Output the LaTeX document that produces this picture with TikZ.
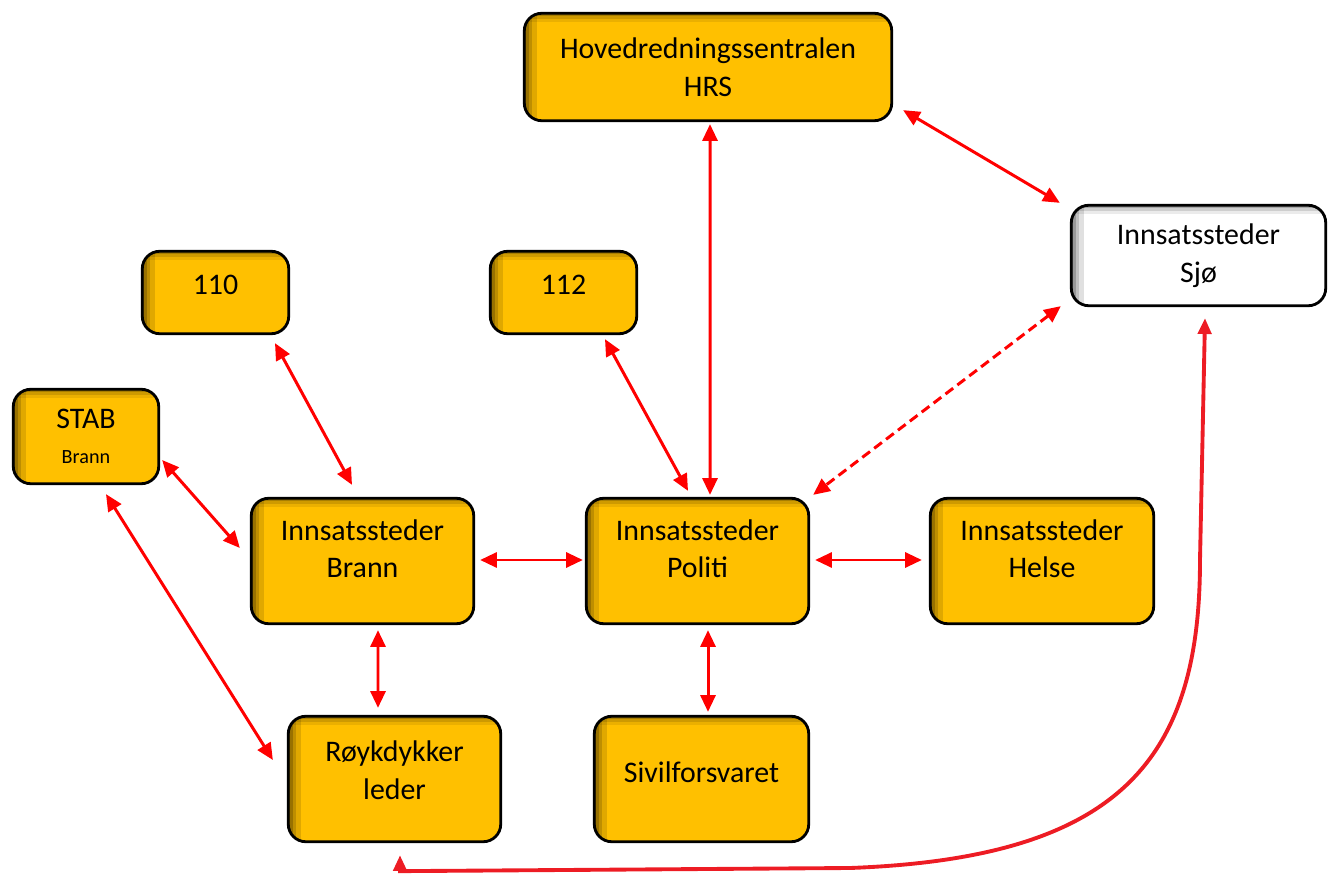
\documentclass[tikz,border=0pt]{standalone}
\usepackage{fontspec}
\setmainfont{Carlito}
\usepackage{tikz}
\usetikzlibrary{arrows.meta}
\definecolor{boxgold}{HTML}{FFC000}
\definecolor{linkred}{HTML}{FF0000}
\definecolor{routered}{HTML}{ED1C24}
\tikzstyle{every node}=[font=\fontsize{17}{21.5}\selectfont]
\tikzstyle{inset}=[path picture={
        \foreach \w/\o in {7/0.12,4.5/0.15,2.5/0.2,1/0.25}
            \fill[sharp corners,black,opacity=\o] (path picture bounding box.south west) rectangle ([xshift=\w pt]path picture bounding box.north west);
        \foreach \w/\o in {5/0.08,3/0.12,1.5/0.18}
            \fill[sharp corners,black,opacity=\o] (path picture bounding box.north west) rectangle ([yshift=-\w pt]path picture bounding box.north east);
    }]
\tikzstyle{unit}=[draw=black,line width=1.6pt,rounded corners=10pt,fill=boxgold,inset,align=center,inner sep=0pt]
\tikzstyle{sea}=[fill=white]
\tikzset{toptext/.style={text depth=#1}}
\tikzstyle{link}=[{Triangle[length=9.5pt,width=8.5pt]}-{Triangle[length=9.5pt,width=8.5pt]},draw=linkred,line width=1.7pt]
\tikzstyle{route}=[{Triangle[length=9pt,width=7.5pt]}-{Triangle[length=9pt,width=7.5pt]},draw=routered,line width=2.2pt]

\begin{document}
\begin{tikzpicture}[x=0.02cm,y=-0.02cm]
    \useasboundingbox (0,0) rectangle (1332,874);

    % boxes
    \node[unit,minimum width=7.35cm,minimum height=2.15cm] (hrs) at (708,67) {Hovedredningssentralen\\HRS};
    \node[unit,sea,minimum width=5.09cm,minimum height=2.01cm] (sjo) at (1198.5,255.5) {Innsatssteder\\Sjø};
    \node[unit,text height=12pt,toptext=10pt,minimum width=2.93cm,minimum height=1.65cm] (n110) at (215.5,292.5) {110};
    \node[unit,text height=12pt,toptext=10pt,minimum width=2.93cm,minimum height=1.65cm] (n112) at (563.5,292.5) {112};
    \node[unit,minimum width=2.91cm,minimum height=1.89cm] (stab) at (86,436.5) {STAB\\[-2pt]{\fontsize{11.5}{14}\selectfont Brann}};
    \node[unit,toptext=14pt,minimum width=4.45cm,minimum height=2.51cm] (brann) at (362.5,561) {Innsatssteder\\Brann};
    \node[unit,toptext=14pt,minimum width=4.45cm,minimum height=2.51cm] (politi) at (697.5,561) {Innsatssteder\\Politi};
    \node[unit,toptext=14pt,minimum width=4.47cm,minimum height=2.51cm] (helse) at (1042,561) {Innsatssteder\\Helse};
    \node[unit,toptext=10.5pt,minimum width=4.25cm,minimum height=2.51cm] (royk) at (394.5,779) {Røykdykker\\leder};
    \node[unit,text height=12pt,toptext=8pt,minimum width=4.29cm,minimum height=2.51cm] (sivil) at (701.5,779) {Sivilforsvaret};

    % links
    \draw[link] ([shift={(2,2)}]hrs.south) -- ([shift={(12.5,-2)}]politi.north);
    \draw[link] ([shift={(10,-12)}]hrs.south east) -- ([shift={(-10,-1)}]sjo.north west);
    \draw[link,dash pattern=on 5.5pt off 3pt] ([shift={(-9,-1)}]sjo.south west) -- ([shift={(3,-2)}]politi.north east);
    \draw[link] ([shift={(41.5,4)}]n112.south) -- ([shift={(-9.5,-6)}]politi.north);
    \draw[link] ([shift={(59.5,8)}]n110.south) -- ([shift={(-10.5,-12)}]brann.north);
    \draw[link] ([shift={(2,23.5)}]stab.east) -- ([shift={(-10,-13)}]brann.west);
    \draw[link] ([shift={(20,9)}]stab.south) -- ([shift={(-14,-19)}]royk.west);
    \draw[link] ([shift={(5,-1)}]brann.east) -- ([shift={(-2,-1)}]politi.west);
    \draw[link] ([shift={(5,-1)}]politi.east) -- ([shift={(-7,-1)}]helse.west);
    \draw[link] ([shift={(15.5,5)}]brann.south) -- ([shift={(-16.5,-7)}]royk.north);
    \draw[link] ([shift={(10.5,5)}]politi.south) -- ([shift={(6.5,-3)}]sivil.north);

    % long way round to the sea
    \draw[route] ([shift={(5.5,12)}]royk.south) -- ++(0,16) -- (850,868)
        .. controls (1120,858) and (1200,760) .. (1200,560) -- ([shift={(6.5,11)}]sjo.south);
\end{tikzpicture}
\end{document}
